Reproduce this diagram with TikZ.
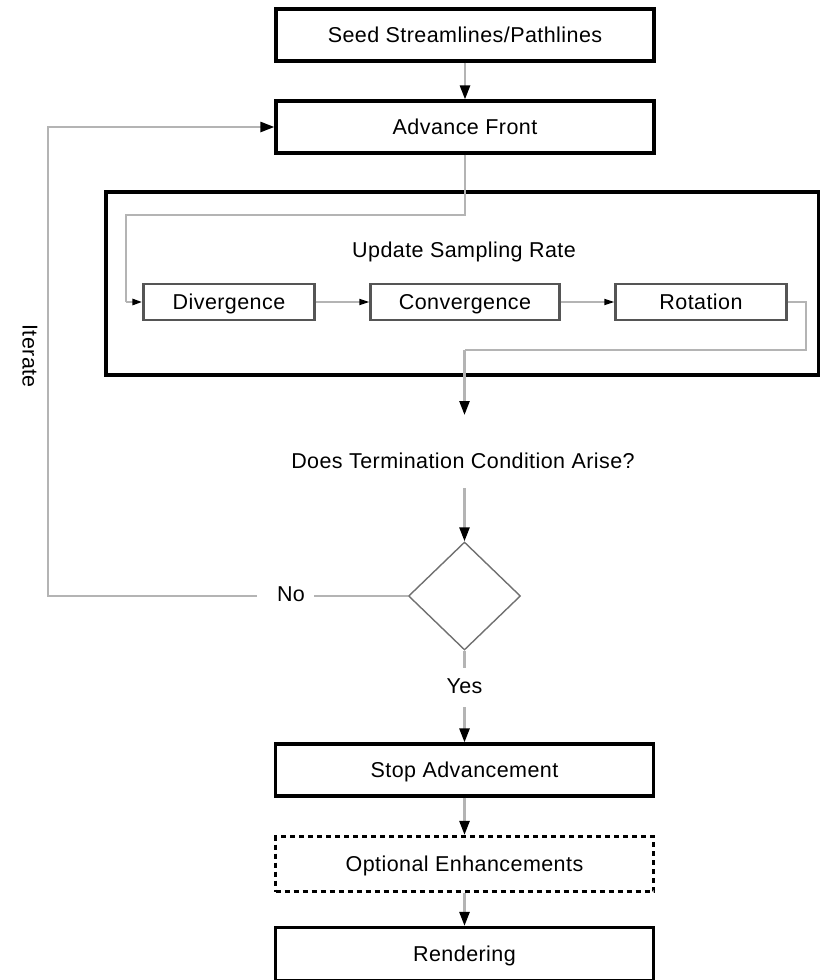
\documentclass[tikz,border=0pt]{standalone}
\usepackage{fontspec}
\setmainfont{Liberation Sans}[LetterSpace=2]
\usetikzlibrary{arrows.meta,shapes.geometric}
\definecolor{conn}{HTML}{B4B4B4}
\definecolor{sbox}{HTML}{555555}
\definecolor{dia}{HTML}{707070}
\tikzset{
  txt/.style={font=\fontsize{21.5}{25}\selectfont,text height=17pt,text depth=2pt},
  mainbox/.style={draw=black,line width=3.2pt,minimum width=378pt,minimum height=52pt,inner sep=0pt,txt},
  optbox/.style={mainbox,dash pattern=on 5pt off 4pt},
  smallbox/.style={draw=sbox,line width=2.2pt,minimum height=36pt,inner sep=0pt,txt},
  lbl/.style={inner sep=0pt,txt},
  conline/.style={draw=conn,line width=2.5pt},
  bigarrow/.style={conline,-{Triangle[length=14pt,width=10pt,fill=black,color=black]}},
  smallarrow/.style={draw=conn,line width=1.7pt,-{Triangle[length=10pt,width=6pt,fill=black,color=black]}},
}
\begin{document}
\begin{tikzpicture}[x=1pt,y=-1pt]
\useasboundingbox (0,0) rectangle (821,980);
% main boxes
\node[mainbox] (seed) at (465,35) {Seed Streamlines/Pathlines};
\node[mainbox] (adv) at (465,127) {Advance Front};
% big group box
\draw[line width=3.2pt] (106,192) rectangle (818.5,375);
\node[lbl] (usr) at (464,249.5) {Update Sampling Rate};
\node[smallbox,minimum width=171pt] (div) at (229,302) {Divergence};
\node[smallbox,minimum width=189pt] (conv) at (465,302) {Convergence};
\node[smallbox,minimum width=171pt] (rot) at (701,302) {Rotation};
% termination
\node[lbl] (term) at (463,461) {Does Termination Condition Arise?};
\node[draw=dia,line width=1.4pt,diamond,minimum width=112pt,minimum height=108pt,inner sep=0pt] (dec) at (464.5,596) {};
\node[lbl] (no) at (291,594) {No};
\node[lbl] (yes) at (464.5,686) {Yes};
\node[lbl,rotate=-90] (iter) at (30,356) {Iterate};
% lower boxes
\node[mainbox] (stop) at (464.5,770) {Stop Advancement};
\node[optbox,minimum height=55pt] (opt) at (464.5,864) {Optional Enhancements};
\node[mainbox,minimum height=53pt] (rend) at (464.5,954) {Rendering};
% coordinates
\coordinate (a1) at (465,215);
\coordinate (a2) at (126,215);
\coordinate (a3) at (126,302);
\coordinate (r1) at (806,302);
\coordinate (r2) at (806,350);
\coordinate (r3) at (464.5,350);
\coordinate (r4) at (464.5,415);
\coordinate (t1) at (464.5,488);
\coordinate (y1) at (464.5,668);
\coordinate (y2) at (464.5,707);
\coordinate (n1) at (314,596);
\coordinate (n2) at (257,596);
\coordinate (l1) at (48,596);
\coordinate (l2) at (48,127);
% connectors
\draw[bigarrow] (seed.south) -- (adv.north);
\draw[conline] (adv.south) -- (a1) -- (a2) -- (a3);
\draw[smallarrow,line width=2.5pt] (a3) -- (div.west);
\draw[smallarrow] (div.east) -- (conv.west);
\draw[smallarrow] (conv.east) -- (rot.west);
\draw[conline] (rot.east) -- (r1) -- (r2) -- (r3);
\draw[bigarrow] (r3) -- (r4);
\draw[bigarrow] (t1) -- (dec.north);
\draw[conline] (dec.west) -- (n1);
\draw[bigarrow] (n2) -- (l1) -- (l2) -- (adv.west);
\draw[conline] (dec.south) -- (y1);
\draw[bigarrow] (y2) -- (stop.north);
\draw[bigarrow] (stop.south) -- (opt.north);
\draw[bigarrow] (opt.south) -- (rend.north);
\end{tikzpicture}
\end{document}
